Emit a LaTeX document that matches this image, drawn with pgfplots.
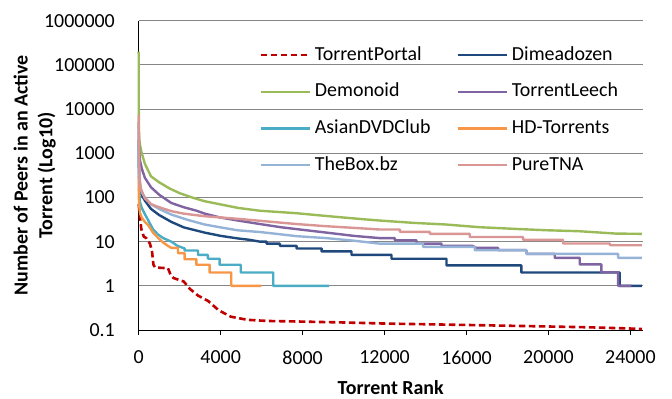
\documentclass[border=0pt]{standalone}
\usepackage{pgfplots}
\pgfplotsset{compat=1.18}
\usepackage{fontspec}
\setmainfont{Carlito}
\definecolor{cRed}{RGB}{192,0,0}
\definecolor{cDark}{RGB}{31,73,125}
\definecolor{cGreen}{RGB}{155,187,89}
\definecolor{cPurple}{RGB}{128,100,162}
\definecolor{cTeal}{RGB}{75,172,198}
\definecolor{cOrange}{RGB}{247,150,70}
\definecolor{cLBlue}{RGB}{149,179,215}
\definecolor{cPink}{RGB}{217,150,148}
\definecolor{cGrid}{RGB}{134,134,134}
\begin{document}
\begin{tikzpicture}
\path[use as bounding box] (-138.7bp,-69bp) rectangle (533.3bp,330bp);
\begin{axis}[
  at={(0,0)}, anchor=south west,
  scale only axis, width=504bp, height=309.3bp,
  ymode=log, log basis y=10,
  xmin=0, xmax=24600, ymin=0.1, ymax=1000000,
  axis x line*=bottom, axis y line*=left,
  axis line style={black, line width=0.9bp},
  ymajorgrids, major grid style={cGrid, line width=0.9bp},
  scaled x ticks=false,
  xtick={0,4000,8000,12000,16000,20000,24000},
  xticklabels={0,4000,8000,12000,16000,20000,24000},
  ytick={0.1,1,10,100,1000,10000,100000,1000000},
  yticklabels={0.1,1,10,100,1000,10000,100000,1000000},
  tick align=outside, major tick length=5bp,
  xtick style={black, line width=0.9bp},
  ytick style={draw=none},
  minor tick num=0,
  tick label style={font=\fontsize{20}{24}\selectfont, inner sep=0pt},
  yticklabel style={anchor=east, xshift=-18.7bp},
  xticklabel style={anchor=north, yshift=-15.5bp},
  xlabel={Torrent Rank},
  ylabel={Number of Peers in an Active\\Torrent (Log10)},
  label style={font=\bfseries\fontsize{20}{25}\selectfont},
  xlabel style={at={(axis description cs:0.5,-0.1875)}, anchor=center},
  ylabel style={at={(axis description cs:-0.2063,0.5)}, anchor=center, align=center},
  clip=false,
  legend columns=2,
  legend cell align=left,
  legend image code/.code={\draw[#1] (0bp,0bp) -- (49bp,0bp);},
  legend style={at={(axis description cs:0.2393,0.918)}, anchor=north west,
    draw=none, fill=none, inner sep=0pt, outer sep=0pt, row sep=18.7bp,
    font=\fontsize{20}{24}\selectfont,
    nodes={inner sep=0pt, text height=14bp, text depth=4bp},
    /tikz/every odd column/.append style={column sep=4bp},
    /tikz/every even column/.append style={column sep=26bp}},
  every axis plot/.append style={line width=2.4bp, line join=round},
]
% TorrentPortal
\addplot[cRed, dash pattern=on 6.5bp off 3.5bp, line width=2.6bp] coordinates {
(0,70) (40,45) (130,19) (250,13) (370,12) (550,9) (650,6) (720,3) (800,2.6) (1430,2.5) (1550,1.8) (1700,1.5) (2200,1.25) (2500,0.85) (2900,0.6) (3400,0.45) (3900,0.28) (4500,0.2) (5300,0.17) (6300,0.16) (8000,0.155) (10000,0.148) (12000,0.14) (14000,0.135) (16000,0.13) (18000,0.125) (20000,0.12) (22000,0.115) (24000,0.108) (24560,0.105)};
\addlegendentry{TorrentPortal}
% Dimeadozen
\addplot[cDark] coordinates {
(0,2000) (10,500) (40,200) (120,120) (300,85) (600,55) (1000,40) (1590,28) (2200,21) (3220,16) (4000,13.5) (4844,11.8) (5400,11) (5917,10) (6242,10) (6242,9) (6893,9) (6893,8) (7706,8) (7706,7) (8925,7) (8925,6) (10389,6) (10389,5) (12340,5) (12340,4.1) (15023,4.1) (15023,2.9) (18680,2.9) (18680,2) (23480,2) (23480,1) (24560,1)};
\addlegendentry{Dimeadozen}
% Demonoid
\addplot[cGreen] coordinates {
(0,200000) (2,20000) (8,4000) (30,2000) (80,1400) (150,1000) (300,580) (600,300) (1000,220) (1500,160) (2000,125) (2600,100) (3220,82) (3640,75) (4844,58) (5917,50) (7700,44) (9170,38) (11000,32) (11771,30) (13400,26.6) (15000,24.4) (16650,21.2) (18300,19.5) (19900,18.1) (21500,17.2) (23300,15.2) (24560,15)};
\addlegendentry{Demonoid}
% TorrentLeech
\addplot[cPurple] coordinates {
(0,5000) (5,2500) (20,1200) (60,700) (150,450) (300,280) (600,170) (1000,115) (1590,75) (2200,60) (2829,50) (3220,43) (4000,35) (4844,30) (5917,25) (7000,21) (8000,18.5) (9170,16) (10500,13.5) (11771,12) (12503,12) (12503,10.7) (13560,10.7) (13560,9) (14779,9) (14779,8) (16300,8) (16486,7.2) (17543,7.2) (17543,6.4) (18925,6.4) (18925,5.3) (20307,5.3) (20307,4.3) (21527,4.3) (21527,3.05) (22584,3.05) (22584,2.03) (23397,2.03) (23397,1) (24047,1)};
\addlegendentry{TorrentLeech}
% AsianDVDClub
\addplot[cTeal] coordinates {
(0,1500) (5,500) (20,150) (60,80) (150,58) (300,42) (454,31) (700,19) (942,14.5) (1200,12) (1590,10) (1900,8) (2242,7) (2242,6.3) (2893,6.3) (2893,5) (3380,5) (3380,4.1) (3950,4.1) (3950,3) (4980,3) (4980,2) (6567,2) (6567,1) (9300,1)};
\addlegendentry{AsianDVDClub}
% HD-Torrents
\addplot[cOrange] coordinates {
(0,300) (5,120) (20,70) (60,45) (150,35) (300,28) (454,24) (700,16) (942,12.2) (1200,9.5) (1430,8) (1600,7.2) (1918,7.2) (1918,5.5) (2243,5.5) (2243,4) (2812,4) (2812,3) (3462,3) (3462,2) (4519,2) (4519,1) (5982,1)};
\addlegendentry{HD-Torrents}
% TheBox.bz
\addplot[cLBlue] coordinates {
(0,3000) (5,1200) (20,400) (60,200) (150,130) (300,100) (600,70) (1000,55) (1590,41) (2400,31) (3220,24.4) (4000,21) (4844,18) (5917,16.5) (7000,14.5) (7700,13.3) (9170,12) (10500,10.5) (11771,9) (13885,9) (13885,7.6) (16405,7.6) (16405,6.4) (18925,6.4) (18925,5.3) (23397,5.3) (23397,4.3) (24560,4.3)};
\addlegendentry{TheBox.bz}
% PureTNA
\addplot[cPink] coordinates {
(0,7500) (5,3000) (15,1000) (40,300) (100,160) (300,95) (620,70) (1000,60) (1590,49) (2200,43) (3220,37.6) (4844,32.8) (6146,29) (7700,25) (9170,22.3) (10500,20.5) (11771,18.8) (12750,18.8) (12750,16.6) (14210,16.6) (14210,15) (16160,15) (16160,12.7) (18760,12.7) (18760,11) (20710,11) (20710,9.06) (23000,9.06) (23000,8.3) (24560,8.3)};
\addlegendentry{PureTNA}
\end{axis}
\end{tikzpicture}
\end{document}
